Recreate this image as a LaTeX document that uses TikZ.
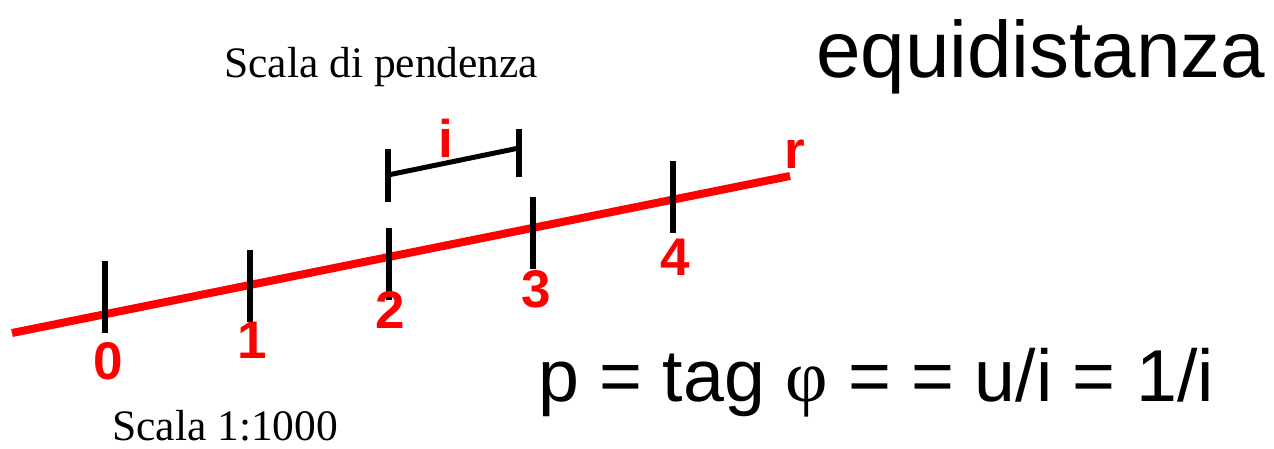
\documentclass[tikz,border=0pt]{standalone}
\usepackage{fontspec}
\setmainfont{Liberation Sans}
\newfontfamily\timesfont{Liberation Serif}
\usepackage{tikz}
\usetikzlibrary{positioning}
\definecolor{ScaleRed}{RGB}{255,0,0}
\definecolor{ScaleInk}{RGB}{0,0,0}

\begin{document}
\begin{tikzpicture}[x=1pt,y=-1pt,
  numlab/.style={text=ScaleRed,inner sep=0pt,font=\bfseries\fontsize{53}{53}\selectfont},
  serifnote/.style={inner sep=0pt,anchor=base west,font=\timesfont\fontsize{43.5}{43.5}\selectfont},
  tickmark/.style={draw=ScaleInk,line width=6pt},
  scaleline/.style={draw=ScaleRed,line width=8pt}]
  \useasboundingbox (0,0) rectangle (1274,448);
  % titles
  \node[inner sep=0pt,anchor=base west,font=\fontsize{80}{80}\selectfont] (title) at (816,77) {equidistanza};
  \node[serifnote] (scalep) at (224,77) {Scala di pendenza};
  \node[serifnote] (scalen) at (112,440) {Scala 1:1000};
  \node[inner sep=0pt,anchor=base west,font=\fontsize{73.5}{73.5}\selectfont] (formula) at (538,401) {p = tag {\timesfont φ} = = u/i = 1/i};
  % straight line r
  \coordinate (rstart) at (12,333);
  \coordinate (rend) at (790,176);
  \draw[scaleline] (rstart) -- (rend);
  \node[numlab] (rlab) at (795,154) {r};
  % ticks
  \coordinate (t0a) at (105,261); \coordinate (t0b) at (105,333);
  \coordinate (t1a) at (250,250); \coordinate (t1b) at (250,322);
  \coordinate (t2a) at (389,228); \coordinate (t2b) at (389,300);
  \coordinate (t3a) at (533,197); \coordinate (t3b) at (533,269);
  \coordinate (t4a) at (673,161); \coordinate (t4b) at (673,233);
  \draw[tickmark] (t0a) -- (t0b);
  \draw[tickmark] (t1a) -- (t1b);
  \draw[tickmark] (t2a) -- (t2b);
  \draw[tickmark] (t3a) -- (t3b);
  \draw[tickmark] (t4a) -- (t4b);
  \node[numlab] (n0) at (108,361) {0};
  \node[numlab] (n1) at (252,340) {1};
  \node[numlab] (n2) at (390,310) {2};
  \node[numlab] (n3) at (536,289) {3};
  \node[numlab] (n4) at (675,257) {4};
  % interval i
  \coordinate (ia) at (388,149); \coordinate (ib) at (388,202);
  \coordinate (ic) at (519,129); \coordinate (id) at (519,177);
  \coordinate (il) at (388,175); \coordinate (ir) at (519,148);
  \draw[tickmark] (ia) -- (ib);
  \draw[tickmark] (ic) -- (id);
  \draw[tickmark,line width=5pt] (il) -- (ir);
  \node[numlab] (ilab) at (446,138) {i};
\end{tikzpicture}
\end{document}
